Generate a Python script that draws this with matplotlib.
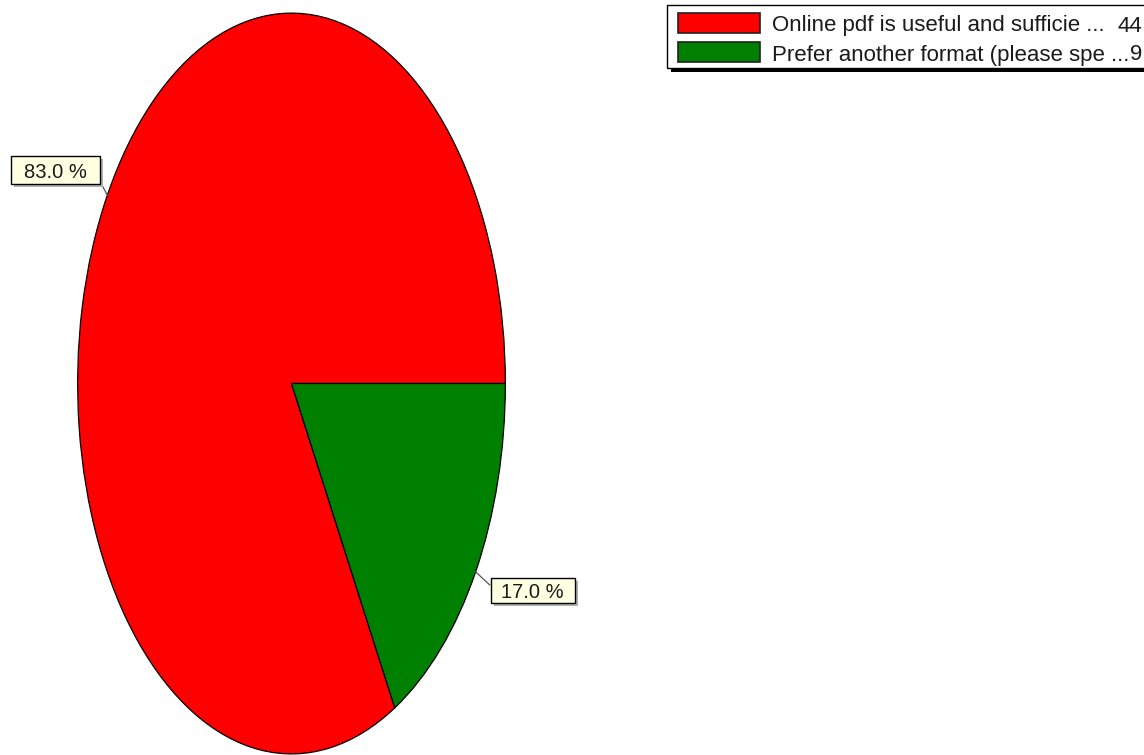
import numpy as np
import matplotlib
matplotlib.use("Agg")
import matplotlib.pyplot as plt
from matplotlib.patches import Rectangle

categories = ["Online pdf is useful and sufficie ...", "Prefer another format (please spe ..."]
counts = [44, 9]
colors = ["#FF0000", "#008000"]

W, H = 1144, 755
fig = plt.figure(figsize=(W / 100, H / 100), dpi=100)
fig.patch.set_facecolor("white")

# pie axes (elliptical pie)
left, top, right, bottom = 77, 12, 506, 755
axp = fig.add_axes([left / W, (H - bottom) / H, (right - left) / W, (bottom - top) / H])
wedges, _ = axp.pie(counts, colors=colors, startangle=0, counterclock=True,
                    wedgeprops=dict(edgecolor="black", linewidth=0.9))
axp.set_aspect("auto")
axp.set_xlim(-1.003, 1.003)
axp.set_ylim(-1.003, 1.003)
axp.axis("off")

# overlay axes in pixel coordinates
ax = fig.add_axes([0, 0, 1, 1], zorder=5)
ax.set_xlim(0, W)
ax.set_ylim(H, 0)
ax.axis("off")

fig.canvas.draw()
to_px = ax.transData.inverted()

total = sum(counts)
# label styles: (leader end offset, box center offset, box width, box height)
label_styles = [((-7, -13), (-52, -25), 89, 28), ((14, 13), (57, 19), 84, 25)]
cum = 0
for cnt, (lend, boff, bw, bh) in zip(counts, label_styles):
    frac = cnt / total
    mid = 2 * np.pi * (cum + frac / 2)
    cum += frac
    disp = axp.transData.transform((np.cos(mid), np.sin(mid)))
    ex, ey = to_px.transform(disp)
    ax.plot([ex, ex + lend[0]], [ey, ey + lend[1]], color="#555555", lw=0.9, zorder=6)
    cx, cy = ex + boff[0], ey + boff[1]
    ax.add_patch(Rectangle((cx - bw / 2 + 3, cy - bh / 2 + 3), bw, bh,
                           facecolor="#b0b0b0", edgecolor="none", zorder=6))
    ax.add_patch(Rectangle((cx - bw / 2, cy - bh / 2), bw, bh,
                           facecolor="#FFFFE1", edgecolor="black", lw=1.0, zorder=7))
    ax.text(cx, cy + 7.5, f"{frac * 100:.1f} %", ha="center", va="baseline",
            fontsize=14.5, family="Liberation Sans", color="#1a1a1a", zorder=8)

# legend
lx, ly, lw_, lh = 667, 5, 490, 63
ax.add_patch(Rectangle((lx + 4, ly + 4), lw_, lh, facecolor="black", edgecolor="none", zorder=6))
ax.add_patch(Rectangle((lx, ly), lw_, lh, facecolor="white", edgecolor="black", lw=1.0, zorder=7))
row_y = [13, 42]
for i, (cat, cnt, col) in enumerate(zip(categories, counts, colors)):
    y0 = row_y[i]
    ax.add_patch(Rectangle((678, y0), 82, 20, facecolor=col, edgecolor="#222222", lw=1.2, zorder=8))
    ax.text(772, y0 + 18.5, cat, ha="left", va="baseline", fontsize=16,
            family="Liberation Sans", color="#1a1a1a", zorder=8)
    ax.text(1142, y0 + 18.5, str(cnt), ha="right", va="baseline", fontsize=16,
            family="Liberation Sans", color="#1a1a1a", zorder=8)

fig.savefig("out.png", dpi=100, facecolor="white")
